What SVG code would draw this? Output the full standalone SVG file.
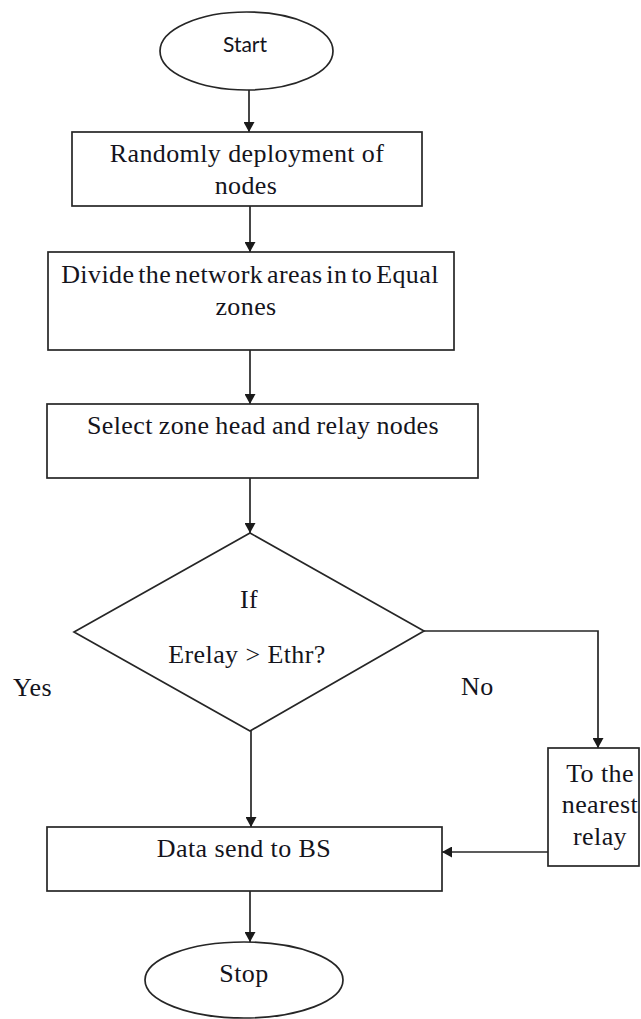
<svg xmlns="http://www.w3.org/2000/svg" width="641" height="1019" viewBox="0 0 641 1019">
  <style>
    .shape { fill: #ffffff; stroke: #262626; stroke-width: 1.7; }
    .conn { fill: none; stroke: #262626; stroke-width: 1.7; }
    .lbl { font-family: "Liberation Serif", "Times New Roman", serif; font-size: 26px; fill: #14141c; letter-spacing: 0.4px; }
    .mid { text-anchor: middle; }
    .sans { font-family: Lato, "Liberation Sans", sans-serif; font-size: 21px; fill: #14141c; text-anchor: middle; }
  </style>
  <defs>
    <marker id="arrow" markerUnits="userSpaceOnUse" markerWidth="10" markerHeight="11" refX="10" refY="5.5" orient="auto">
      <path d="M0,0 L10,5.5 L0,11 z" fill="#1a1a1a"/>
    </marker>
  </defs>
  <rect width="641" height="1019" fill="#ffffff"/>

  <g id="connectors">
    <line class="conn" x1="249" y1="90" x2="249" y2="132" marker-end="url(#arrow)"/>
    <line class="conn" x1="250" y1="206" x2="250" y2="252" marker-end="url(#arrow)"/>
    <line class="conn" x1="250" y1="350" x2="250" y2="404" marker-end="url(#arrow)"/>
    <line class="conn" x1="250" y1="478" x2="250" y2="533" marker-end="url(#arrow)"/>
    <polyline class="conn" points="424,631 598,631 598,748" marker-end="url(#arrow)"/>
    <line class="conn" x1="251" y1="731" x2="251" y2="827" marker-end="url(#arrow)"/>
    <line class="conn" x1="548" y1="852" x2="442" y2="852" marker-end="url(#arrow)"/>
    <line class="conn" x1="250" y1="891" x2="250" y2="942" marker-end="url(#arrow)"/>
  </g>

  <g id="start">
    <ellipse class="shape" cx="246.5" cy="51" rx="86.5" ry="39"/>
    <text class="sans" x="245" y="52">Start</text>
  </g>

  <g id="deploy">
    <rect class="shape" x="72" y="132" width="350" height="74"/>
    <text class="lbl mid" x="247" y="162">Randomly deployment of</text>
    <text class="lbl mid" x="246" y="194">nodes</text>
  </g>

  <g id="divide">
    <rect class="shape" x="48" y="252" width="406" height="98"/>
    <text class="lbl mid" x="250" y="283" word-spacing="-3">Divide the network areas in to Equal</text>
    <text class="lbl mid" x="246" y="315">zones</text>
  </g>

  <g id="select">
    <rect class="shape" x="47" y="404" width="431" height="74"/>
    <text class="lbl mid" x="263" y="434" word-spacing="-1">Select zone head and relay nodes</text>
  </g>

  <g id="decision">
    <polygon class="shape" points="250,533 424,631 250,731 74,632"/>
    <text class="lbl mid" x="249" y="608">If</text>
    <text class="lbl mid" x="247" y="663">Erelay &gt; Ethr?</text>
  </g>

  <g id="labels">
    <text class="lbl" x="13" y="696">Yes</text>
    <text class="lbl" x="461" y="695">No</text>
  </g>

  <g id="relay">
    <rect class="shape" x="548" y="748" width="91" height="118"/>
    <text class="lbl mid" x="600" y="782">To the</text>
    <text class="lbl mid" x="600" y="813">nearest</text>
    <text class="lbl mid" x="600" y="845">relay</text>
  </g>

  <g id="send">
    <rect class="shape" x="47" y="827" width="395" height="64"/>
    <text class="lbl mid" x="244" y="857">Data send to BS</text>
  </g>

  <g id="stop">
    <ellipse class="shape" cx="244" cy="980" rx="99" ry="38"/>
    <text class="lbl mid" x="244" y="982">Stop</text>
  </g>
</svg>
